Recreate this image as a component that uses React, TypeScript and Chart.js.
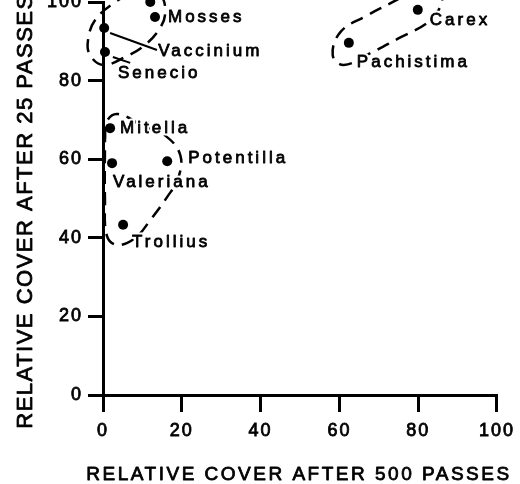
import React, { useEffect, useRef } from 'react';
import { Chart, registerables } from 'chart.js';

Chart.register(...registerables);

// ---- data ----
const speciesNames = ['Mosses', '', 'Vaccinium', 'Senecio', 'Mitella', 'Valeriana', 'Potentilla', 'Trollius', 'Pachistima', 'Carex'];
const cover500 = [13.2, 12.0, 0.3, 0.5, 1.8, 2.3, 16.3, 5.1, 62.4, 79.9];
const cover25 = [96.2, 100.0, 93.4, 87.3, 67.9, 59.0, 59.5, 43.3, 89.6, 98.0];

const xTickValues = [0, 20, 40, 60, 80, 100];
const yTickValues = [0, 20, 40, 60, 80, 100];
const xAxisTitle = 'RELATIVE COVER AFTER 500 PASSES';
const yAxisTitle = 'RELATIVE COVER AFTER 25 PASSES';

// dashed enclosures (data units)
const groupUpperLeft = [
  { x: 9.4, y: 103.6 }, { x: 14.5, y: 101.8 }, { x: 15.8, y: 97.5 }, { x: 14.5, y: 93.4 },
  { x: 10.7, y: 89.1 }, { x: 5.6, y: 86.0 }, { x: 0.0, y: 84.0 }, { x: -3.3, y: 86.5 },
  { x: -3.8, y: 90.3 }, { x: -2.0, y: 95.4 }, { x: 3.1, y: 100.0 }, { x: 9.4, y: 103.6 },
];
const groupCarex = [
  { x: 78.1, y: 102.5 }, { x: 85.8, y: 101.0 }, { x: 85.2, y: 98.0 }, { x: 81.9, y: 94.4 },
  { x: 75.1, y: 90.8 }, { x: 67.9, y: 87.0 }, { x: 61.1, y: 84.0 }, { x: 58.3, y: 86.5 },
  { x: 60.3, y: 92.4 }, { x: 66.7, y: 96.4 }, { x: 73.0, y: 99.7 }, { x: 78.1, y: 102.5 },
];
const groupMiddle = [
  { x: 0.5, y: 64.9 }, { x: 1.0, y: 69.7 }, { x: 3.8, y: 71.5 }, { x: 10.2, y: 68.4 },
  { x: 15.8, y: 66.0 }, { x: 19.6, y: 61.1 }, { x: 19.1, y: 55.2 }, { x: 16.3, y: 50.4 },
  { x: 12.0, y: 44.5 }, { x: 8.1, y: 39.9 }, { x: 3.6, y: 38.2 }, { x: 1.0, y: 40.5 },
  { x: 0.5, y: 49.6 }, { x: 0.5, y: 64.9 },
];
const leaderVaccinium = [{ x: 1.8, y: 92.1 }, { x: 13.7, y: 87.8 }];
const leaderSenecio = [{ x: 2.5, y: 86.0 }, { x: 6.9, y: 84.5 }];

// ---- styles ----
const FONT = '"Liberation Sans", Arial, Helvetica, sans-serif';
// pixel offsets of each label from its point
const labelOffsets = [[13, 0], [0, 0], [54, 23], [13, 21], [10, 0], [1, 19], [21, -3], [9, 17], [8, 19], [12, 10]];

const SCATTER_INDEX = 5;

const heavyText = (ctx: any, text: string, x: number, y: number) => {
  ctx.strokeStyle = '#000';
  ctx.lineWidth = 0.8;
  ctx.strokeText(text, x, y);
  ctx.fillText(text, x, y);
};

const annotatePlugin = {
  id: 'annotate',
  beforeDraw(chart: any) {
    chart.ctx.letterSpacing = '2px';
  },
  beforeDatasetDraw(chart: any, args: any) {
    if (args.index !== SCATTER_INDEX) return;
    const ctx = chart.ctx;
    const xs = chart.scales.x;
    const ys = chart.scales.y;
    ctx.save();
    ctx.font = `17px ${FONT}`;
    ctx.letterSpacing = '3px';
    ctx.textAlign = 'left';
    ctx.textBaseline = 'middle';
    ctx.lineJoin = 'round';
    ctx.fillStyle = '#000';
    speciesNames.forEach((name, i) => {
      if (!name) return;
      const px = xs.getPixelForValue(cover500[i]) + labelOffsets[i][0];
      const py = ys.getPixelForValue(cover25[i]) + labelOffsets[i][1];
      ctx.strokeStyle = '#fff';
      ctx.lineWidth = 5;
      ctx.strokeText(name, px, py);
      heavyText(ctx, name, px, py);
    });
    ctx.restore();
  },
  afterDraw(chart: any) {
    const ctx = chart.ctx;
    const area = chart.chartArea;
    ctx.save();
    ctx.fillStyle = '#000';
    ctx.textAlign = 'center';
    ctx.textBaseline = 'middle';
    ctx.lineJoin = 'round';
    ctx.font = `19px ${FONT}`;
    ctx.letterSpacing = '2.5px';
    heavyText(ctx, xAxisTitle, (area.left + area.right) / 2 - 1, area.bottom + 80);
    ctx.font = `22px ${FONT}`;
    ctx.letterSpacing = '1.5px';
    ctx.translate(26, area.top + 209);
    ctx.rotate(-Math.PI / 2);
    heavyText(ctx, yAxisTitle, 0, 0);
    ctx.restore();
  },
};

const dashed = (data: any[]) => ({
  type: 'scatter' as const,
  data,
  showLine: true,
  borderColor: '#000',
  borderWidth: 2.5,
  borderDash: [13, 8],
  tension: 0.4,
  pointRadius: 0,
  pointHoverRadius: 0,
  clip: false as any,
  order: 2,
});

const solid = (data: any[]) => ({
  type: 'scatter' as const,
  data,
  showLine: true,
  borderColor: '#000',
  borderWidth: 2,
  tension: 0,
  pointRadius: 0,
  pointHoverRadius: 0,
  clip: false as any,
  order: 2,
});

const tickFont = { family: FONT, size: 18 };

export default function App() {
  const ref = useRef<HTMLCanvasElement | null>(null);
  useEffect(() => {
    if (!ref.current) return;
    const points = cover500.map((x, i) => ({ x, y: cover25[i] }));
    const chart = new Chart(ref.current, {
      type: 'scatter',
      data: {
        datasets: [
          dashed(groupUpperLeft),
          dashed(groupCarex),
          dashed(groupMiddle),
          solid(leaderVaccinium),
          solid(leaderSenecio),
          {
            data: points,
            backgroundColor: '#000',
            borderColor: '#000',
            borderWidth: 0,
            pointRadius: 5,
            pointHoverRadius: 5,
            clip: false as any,
            order: 0,
          } as any,
        ],
      },
      options: {
        responsive: false,
        devicePixelRatio: 1,
        animation: false,
        layout: { padding: { top: 22, right: 23, left: 0, bottom: 0 } },
        elements: { line: { capBezierPoints: false } as any },
        plugins: { legend: { display: false }, tooltip: { enabled: false } },
        scales: {
          x: {
            type: 'linear',
            min: 0,
            max: 100,
            afterFit: (s: any) => { s.height = 89; },
            afterBuildTicks: (s: any) => { s.ticks = xTickValues.map((v) => ({ value: v })); },
            grid: { drawOnChartArea: false, drawTicks: true, tickLength: 17, lineWidth: 3, color: '#000', tickColor: '#000', tickWidth: 3 } as any,
            border: { display: true, color: '#000', width: 3 },
            ticks: { color: '#000', padding: 8, maxRotation: 0, font: tickFont, textStrokeColor: '#000', textStrokeWidth: 0.8 } as any,
          },
          y: {
            type: 'linear',
            min: 0,
            max: 100,
            afterFit: (s: any) => { s.width = 103; },
            afterBuildTicks: (s: any) => { s.ticks = yTickValues.map((v) => ({ value: v })); },
            grid: { drawOnChartArea: false, drawTicks: true, tickLength: 15, lineWidth: 3, color: '#000', tickColor: '#000', tickWidth: 3 } as any,
            border: { display: true, color: '#000', width: 3 },
            ticks: { color: '#000', padding: 5, font: tickFont, textStrokeColor: '#000', textStrokeWidth: 0.8 } as any,
          },
        },
      },
      plugins: [annotatePlugin],
    });
    return () => chart.destroy();
  }, []);
  return (
    <div style={{ position: 'absolute', left: 0, top: -20, width: 520, height: 504, background: '#fff' }}>
      <canvas ref={ref} width={520} height={504} style={{ display: 'block' }} />
    </div>
  );
}
